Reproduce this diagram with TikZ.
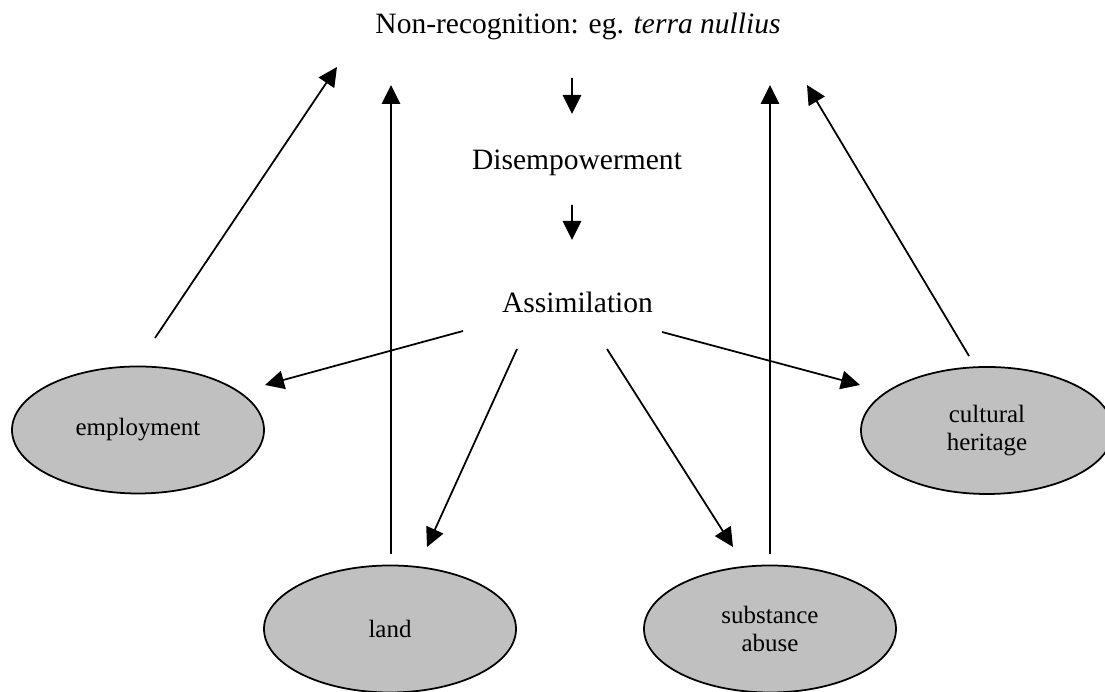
\documentclass[tikz,border=0pt]{standalone}
\usepackage{fontspec}
\setmainfont{Liberation Serif}
\usetikzlibrary{shapes.geometric,arrows.meta}

\definecolor{bubblegray}{RGB}{192,192,192}
\tikzset{
    bubble/.style={ellipse, draw, line width=1pt, fill=bubblegray, minimum width=5.04cm, minimum height=2.54cm, inner sep=0pt, align=center, font=\fontsize{14.2}{16}\selectfont},
    stage/.style={font=\fontsize{16.8}{20}\selectfont},
    arr/.style={line width=1pt, -{Triangle[length=0.38cm,width=0.37cm]}}
}

\begin{document}
\begin{tikzpicture}
    \useasboundingbox (0,0) rectangle (22.1,13.84);

    % chain of stages
    \node[stage] (title) at (11.56,13.32) {Non-recognition: eg. \textit{terra nullius}};
    \node[stage] (dis) at (11.54,10.58) {Disempowerment};
    \node[stage] (assim) at (11.55,7.80) {Assimilation};

    \draw[arr] ([shift={(-0.12,-1.04)}]title.center) -- ([shift={(-0.10,0.98)}]dis.center);
    \draw[arr] ([shift={(-0.10,-0.84)}]dis.center) -- ([shift={(-0.11,1.24)}]assim.center);

    % areas of life
    \node[bubble] (emp) at (2.76,5.24) {employment};
    \node[bubble] (land) at (7.80,1.26) {land};
    \node[bubble] (subs) at (15.40,1.26) {substance\\abuse};
    \node[bubble] (cult) at (19.74,5.23) {cultural\\heritage};

    \draw[arr] ([shift={(-2.29,-0.58)}]assim.center) -- ([shift={(2.54,0.90)}]emp.center);
    \draw[arr] ([shift={(-1.21,-0.94)}]assim.center) -- ([shift={(0.74,1.64)}]land.center);
    \draw[arr] ([shift={(0.59,-0.94)}]assim.center) -- ([shift={(-0.74,1.64)}]subs.center);
    \draw[arr] ([shift={(1.69,-0.60)}]assim.center) -- ([shift={(-2.54,0.91)}]cult.center);

    % feeding back
    \draw[arr] ([shift={(0.34,1.84)}]emp.center) -- ([shift={(-4.82,-0.82)}]title.center);
    \draw[arr] ([shift={(0.02,1.50)}]land.center) -- ([shift={(-3.74,-1.18)}]title.center);
    \draw[arr] ([shift={(0,1.50)}]subs.center) -- ([shift={(3.84,-1.18)}]title.center);
    \draw[arr] ([shift={(-0.36,1.49)}]cult.center) -- ([shift={(4.58,-1.18)}]title.center);
\end{tikzpicture}
\end{document}
